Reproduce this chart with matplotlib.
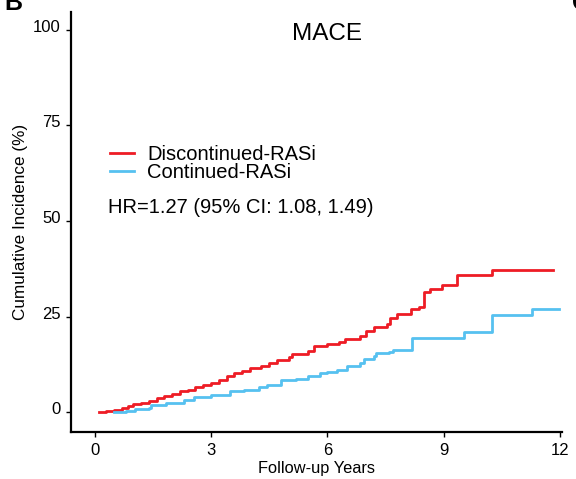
import matplotlib
matplotlib.use('Agg')
import matplotlib.pyplot as plt
import matplotlib.transforms as mtransforms

plt.rcParams['font.family'] = ['Liberation Sans', 'DejaVu Sans']

# cumulative incidence curves (years, %)
disc_t = [0.1, 0.3, 0.5, 0.7, 0.85, 1.0, 1.2, 1.4, 1.6, 1.8, 2.0, 2.2, 2.4, 2.6, 2.8, 3.0,
          3.2, 3.4, 3.6, 3.8, 4.0, 4.3, 4.5, 4.7, 5.0, 5.1, 5.5, 5.65, 6.0, 6.3, 6.45, 6.85,
          7.0, 7.2, 7.55, 7.62, 7.8, 8.15, 8.35, 8.48, 8.65, 8.95, 9.34, 10.24, 11.81]
disc_v = [0, 0.3, 0.7, 1.1, 1.7, 2.1, 2.6, 3.1, 3.7, 4.3, 4.9, 5.5, 6.0, 6.6, 7.2, 7.8,
          8.5, 9.4, 10.2, 10.9, 11.7, 12.2, 12.8, 13.7, 14.5, 15.3, 16.0, 17.4, 18.0, 18.5, 19.3, 20.0,
          21.3, 22.4, 23.0, 24.8, 25.6, 27.0, 27.5, 31.5, 32.3, 33.2, 36.0, 37.1, 37.1]

cont_t = [0.5, 0.8, 1.05, 1.4, 1.45, 1.85, 2.3, 2.55, 3.0, 3.5, 3.85, 4.25, 4.45, 4.8, 5.2,
          5.5, 5.8, 6.0, 6.25, 6.5, 6.85, 6.95, 7.2, 7.25, 7.6, 7.7, 8.1, 8.18, 9.42, 9.52,
          10.24, 11.2, 11.27, 11.98]
cont_v = [0, 0.4, 0.9, 1.2, 2.0, 2.6, 3.2, 4.0, 4.5, 5.5, 5.8, 6.6, 7.3, 8.4, 8.8,
          9.5, 10.2, 10.7, 11.2, 12.1, 12.8, 14.0, 14.7, 15.6, 15.9, 16.4, 16.4, 19.5, 19.5, 21.0,
          25.4, 25.4, 27.1, 27.1]

x_ticks = [0, 3, 6, 9, 12]
y_ticks = [0, 25, 50, 75, 100]

fig = plt.figure(figsize=(5.76, 4.79), dpi=100)
ax = fig.add_axes([71 / 576, 47 / 479, 491 / 576, 420 / 479])

ax.plot(disc_t, disc_v, drawstyle='steps-post', color='#EE1C25', lw=2.0,
        label='Discontinued-RASi')
ax.plot(cont_t, cont_v, drawstyle='steps-post', color='#56C1F0', lw=2.0,
        label='Continued-RASi')

ax.set_xlim(-0.61, 12.05)
ax.set_ylim(-5.1, 104.6)
ax.set_xticks(x_ticks)
ax.set_yticks(y_ticks)
ax.tick_params(labelsize=12, length=3.6, width=1)
ax.tick_params(axis='x', pad=4.5)
ax.tick_params(axis='y', pad=3.6)

# y labels sit a little above their ticks
offset = mtransforms.ScaledTranslation(0, 4 / 100, fig.dpi_scale_trans)
for lab in ax.get_yticklabels():
    lab.set_transform(lab.get_transform() + offset)

for s in ['top', 'right']:
    ax.spines[s].set_visible(False)
for s in ['left', 'bottom']:
    ax.spines[s].set_linewidth(1.6)

ax.set_xlabel('Follow-up Years', fontsize=11.8, labelpad=2)
ax.set_ylabel('Cumulative Incidence (%)', fontsize=12.3, labelpad=4)

ax.text(6, 0.933, 'MACE', transform=ax.get_xaxis_transform(), ha='center',
        va='baseline', fontsize=17.5)

ax.legend(loc='center left', bbox_to_anchor=(0.079, 0.639), frameon=False, fontsize=14.5,
          handlelength=1.2, handletextpad=0.65, labelspacing=-0.02, borderpad=0,
          borderaxespad=0)
ax.text(0.075, 0.521, 'HR=1.27 (95% CI: 1.08, 1.49)', transform=ax.transAxes,
        ha='left', va='baseline', fontsize=14.5)

# panel letters cut off at the top edge
fig.text(0.008, 0.979, 'B', fontsize=18, fontweight='bold', ha='left', va='baseline')
fig.text(0.993, 0.979, 'C', fontsize=18, fontweight='bold', ha='left', va='baseline')

fig.savefig('out.png', dpi=100)
